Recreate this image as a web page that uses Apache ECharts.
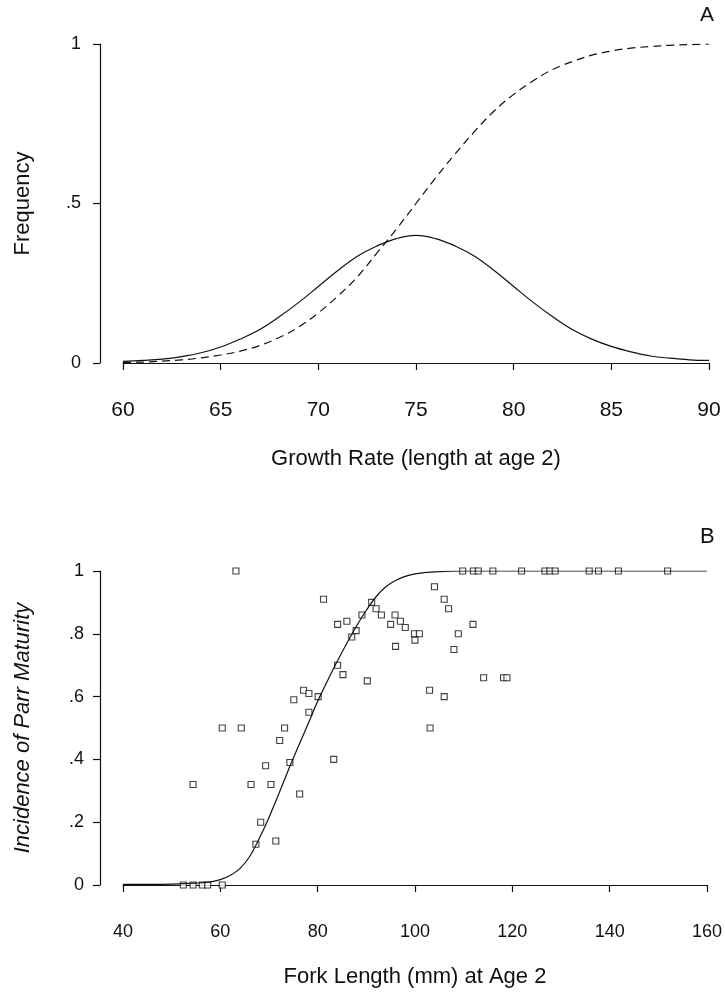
<!DOCTYPE html>
<html>
<head>
<meta charset="utf-8">
<script src="https://cdn.jsdelivr.net/npm/echarts@6/dist/echarts.min.js"></script>
<style>
  html, body { margin: 0; padding: 0; background: #fff; }
  #chart { width: 725px; height: 993px; }
</style>
</head>
<body>
<div id="chart"></div>
<script>
  // panel A: growth rate distribution (solid) and cumulative (dashed)
  const growthRate = [60, 61, 62, 63, 64, 65, 66, 67, 68, 69, 70, 71, 72, 73, 74, 75,
                      76, 77, 78, 79, 80, 81, 82, 83, 84, 85, 86, 87, 88, 89, 90]
  const freqDensity = [0.005, 0.008, 0.012, 0.02, 0.032, 0.05, 0.075, 0.105, 0.145, 0.19, 0.24,
                       0.29, 0.335, 0.367, 0.39, 0.40, 0.39, 0.367, 0.335, 0.29, 0.24, 0.19,
                       0.145, 0.105, 0.075, 0.052, 0.035, 0.022, 0.015, 0.01, 0.008]
  const freqCumulative = [0.002, 0.003, 0.006, 0.01, 0.016, 0.025, 0.037, 0.055, 0.08, 0.113, 0.157,
                          0.21, 0.27, 0.345, 0.42, 0.50, 0.58, 0.655, 0.726, 0.79, 0.842, 0.885,
                          0.92, 0.945, 0.965, 0.978, 0.987, 0.992, 0.996, 0.998, 1.0]
  const yTicksA = ['0', '.5', '1']

  // panel B: observed incidence and fitted curve
  const forkLength = [52.4, 54.4, 56.3, 57.4, 60.4, 54.4, 60.4, 63.2, 64.3, 66.3, 67.3, 68.3,
                      69.3, 70.4, 71.4, 72.2, 73.2, 74.3, 75.1, 76.3, 77.1, 78.2, 78.2, 80.1,
                      81.2, 83.3, 84.1, 84.1, 85.2, 86, 87, 87.9, 89.1, 90.2, 91.1, 92, 93.1,
                      95, 95.9, 96, 97, 98, 99.9, 100.9, 100, 103, 103.1, 104, 106, 106.9,
                      106, 108, 108.9, 111.9, 114.1, 118.2, 118.9,
                      109.8, 112, 113, 116, 121.9, 126.7, 127.7, 128.8, 135.8, 137.7, 141.8, 151.9]
  const incidence = [0, 0, 0, 0, 0, 0.32, 0.50, 1.0, 0.50, 0.32, 0.13, 0.20,
                     0.38, 0.32, 0.14, 0.46, 0.50, 0.39, 0.59, 0.29, 0.62, 0.61, 0.55, 0.60,
                     0.91, 0.40, 0.83, 0.70, 0.67, 0.84, 0.79, 0.81, 0.86, 0.65, 0.90, 0.88, 0.86,
                     0.83, 0.86, 0.76, 0.84, 0.82, 0.80, 0.80, 0.78, 0.62, 0.50, 0.95, 0.91, 0.88,
                     0.60, 0.75, 0.80, 0.83, 0.66, 0.66, 0.66,
                     1, 1, 1, 1, 1, 1, 1, 1, 1, 1, 1, 1]
  const fitLength = [40, 50, 55, 58, 60, 62, 64, 66, 68, 70, 72, 74, 76, 78, 80, 82, 84, 86,
                     88, 90, 92, 94, 96, 98, 100, 104, 110, 120, 140, 160]
  const fitIncidence = [0.002, 0.003, 0.006, 0.01, 0.017, 0.03, 0.052, 0.09, 0.148, 0.215, 0.29,
                        0.367, 0.44, 0.512, 0.585, 0.65, 0.712, 0.77, 0.825, 0.875, 0.918, 0.95,
                        0.97, 0.983, 0.991, 0.997, 1.0, 1.0, 1.0, 1.0]
  const yTicksB = ['0', '.2', '.4', '.6', '.8', '1']

  const ink = '#111'
  const font = 'Liberation Sans, Arial, Helvetica, sans-serif'
  const pairs = (xs, ys) => xs.map((x, i) => [x, ys[i]])

  const axisCommon = {
    type: 'value',
    splitLine: { show: false },
    axisLine: { show: true, lineStyle: { color: ink, width: 1.2 } },
    axisTick: { show: true, inside: false, length: 7, lineStyle: { color: ink, width: 1.2 } },
    nameLocation: 'middle',
    nameTextStyle: { color: ink, fontFamily: font, fontSize: 22 }
  }

  const chart = echarts.init(document.getElementById('chart'))
  chart.setOption({
    animation: false,
    backgroundColor: '#fff',
    grid: [
      { left: 123, right: 16, top: 44, height: 319 },
      { left: 123, right: 16, top: 571, height: 314 }
    ],
    xAxis: [
      Object.assign({}, axisCommon, {
        gridIndex: 0, min: 60, max: 90, interval: 5, offset: 11,
        name: 'Growth Rate (length at age 2)', nameGap: 74,
        axisLabel: { color: ink, fontFamily: font, fontSize: 21, margin: 26 }
      }),
      Object.assign({}, axisCommon, {
        gridIndex: 1, min: 40, max: 160, interval: 20, offset: 13,
        name: 'Fork Length (mm) at Age 2', nameGap: 68,
        axisLabel: { color: ink, fontFamily: font, fontSize: 18, margin: 25 }
      })
    ],
    yAxis: [
      Object.assign({}, axisCommon, {
        gridIndex: 0, min: 0, max: 1, interval: 0.5, offset: 23,
        name: 'Frequency', nameGap: 66,
        axisLabel: {
          color: ink, fontFamily: font, fontSize: 18, margin: 19,
          formatter: v => yTicksA[Math.round(v / 0.5)]
        }
      }),
      Object.assign({}, axisCommon, {
        gridIndex: 1, min: 0, max: 1, interval: 0.2, offset: 23,
        name: 'Incidence of Parr Maturity', nameGap: 66,
        nameTextStyle: { color: ink, fontFamily: font, fontSize: 22, fontStyle: 'italic' },
        axisLabel: {
          color: ink, fontFamily: font, fontSize: 18, margin: 16,
          formatter: v => yTicksB[Math.round(v / 0.2)]
        }
      })
    ],
    graphic: [
      { type: 'text', left: 700, top: 5, style: { text: 'A', fill: ink, font: '21px ' + font } },
      { type: 'text', left: 700, top: 526, style: { text: 'B', fill: ink, font: '22px ' + font } }
    ],
    series: [
      {
        type: 'line', xAxisIndex: 0, yAxisIndex: 0, smooth: 0.4, showSymbol: false,
        lineStyle: { color: ink, width: 1.2 },
        data: pairs(growthRate, freqDensity)
      },
      {
        type: 'line', xAxisIndex: 0, yAxisIndex: 0, smooth: 0.4, showSymbol: false,
        lineStyle: { color: ink, width: 1.2, type: [8, 5] },
        data: pairs(growthRate, freqCumulative)
      },
      {
        type: 'line', xAxisIndex: 1, yAxisIndex: 1, smooth: 0.4,
        showSymbol: false, lineStyle: { color: ink, width: 1.2 },
        data: pairs(fitLength, fitIncidence)
      },
      {
        type: 'scatter', xAxisIndex: 1, yAxisIndex: 1, symbol: 'rect', symbolSize: 6,
        itemStyle: { color: '#fff', borderColor: ink, borderWidth: 1.1 },
        data: pairs(forkLength, incidence)
      }
    ]
  })
</script>
</body>
</html>
